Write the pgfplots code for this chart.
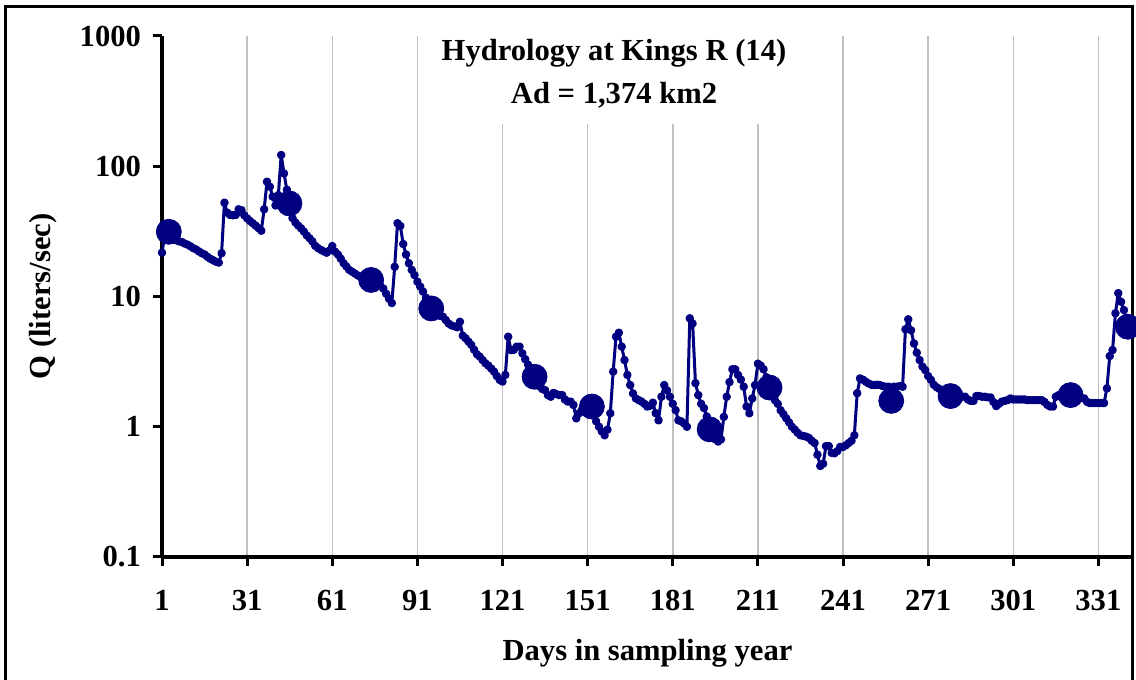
\documentclass[border=0pt]{standalone}
\usepackage{fontspec}
\setmainfont{Liberation Serif}
\usepackage{pgfplots}
\usepackage{pgfplotstable}
\pgfplotsset{compat=1.18}
\definecolor{navy}{HTML}{000080}
\definecolor{gridgray}{HTML}{C0C0C0}

\pgfplotstableread{
d q
1 21.7
2 30
3 31
4 29
5 27.5
6 27
7 26.5
8 26.2
9 25.5
10 25
11 24.3
12 23.5
13 23
14 22.2
15 21.5
16 21
17 20.2
18 19.5
19 19
20 18.5
21 18.2
22 21.5
23 52.5
24 44
25 42.3
26 42
27 42.3
28 46.7
29 46
30 42
31 39.8
32 38
33 36.5
34 35
35 33.5
36 32
37 46.7
38 76
39 69.7
40 58.4
41 50
42 60
43 122
44 88
45 66
46 50
47 40
48 37
49 35
50 33.4
51 31.5
52 29.5
53 28
54 26.5
55 24.5
56 23.5
57 22.8
58 22.2
59 21.7
60 22.5
61 24.4
62 22.1
63 21
64 19.5
65 18
66 17
67 16
68 15.5
69 15
70 14.5
71 14.2
72 14
73 13.7
74 13.4
75 13.1
76 12.8
77 12.4
78 12
79 11.5
80 10.5
81 9.6
82 8.9
83 16.9
84 36.5
85 34.8
86 25.3
87 21
88 18
89 16
90 14.6
91 13
92 11.9
93 10.9
94 9.8
95 9
96 8.2
97 7.6
98 7.3
99 7.1
100 7
101 6.6
102 6.2
103 6
104 5.9
105 5.8
106 6.4
107 5.0
108 4.78
109 4.5
110 4.25
111 3.9
112 3.6
113 3.45
114 3.25
115 3.07
116 2.95
117 2.8
118 2.65
119 2.45
120 2.29
121 2.22
122 2.5
123 4.91
124 3.88
125 3.9
126 4.12
127 4.12
128 3.66
129 3.3
130 3.0
131 2.7
132 2.42
133 2.2
134 2.05
135 1.95
136 1.91
137 1.75
138 1.70
139 1.82
140 1.78
141 1.75
142 1.75
143 1.62
144 1.56
145 1.56
146 1.47
147 1.16
148 1.27
149 1.35
150 1.42
151 1.45
152 1.43
153 1.3
154 1.1
155 1.0
156 0.92
157 0.86
158 0.95
159 1.27
160 2.65
161 4.91
162 5.27
163 4.12
164 3.25
165 2.5
166 2.09
167 1.8
168 1.65
169 1.6
170 1.56
171 1.5
172 1.43
173 1.45
174 1.53
175 1.27
176 1.12
177 1.7
178 2.09
179 1.9
180 1.7
181 1.5
182 1.34
183 1.12
184 1.1
185 1.06
186 1.0
187 6.8
188 6.2
189 2.16
190 1.75
191 1.5
192 1.39
193 1.2
194 1.0
195 0.9
196 0.8
197 0.77
198 0.8
199 1.19
200 1.7
201 2.2
202 2.76
203 2.76
204 2.5
205 2.3
206 2.03
207 1.43
208 1.27
209 1.65
210 2.09
211 3.05
212 2.95
213 2.76
214 2.4
215 2.1
216 1.8
217 1.6
218 1.5
219 1.34
220 1.25
221 1.16
222 1.08
223 1.0
224 0.95
225 0.9
226 0.86
227 0.85
228 0.84
229 0.82
230 0.78
231 0.75
232 0.61
233 0.5
234 0.52
235 0.71
236 0.71
237 0.63
238 0.625
239 0.65
240 0.7
241 0.7
242 0.72
243 0.75
244 0.78
245 0.86
246 1.81
247 2.35
248 2.3
249 2.22
250 2.15
251 2.1
252 2.09
253 2.1
254 2.09
255 2.05
256 2.03
257 2.03
258 2.0
259 2.03
260 2.03
261 2.05
262 2.03
263 5.6
264 6.68
265 5.5
266 4.36
267 3.7
268 3.25
269 2.9
270 2.72
271 2.45
272 2.29
273 2.1
274 2.01
275 1.95
276 1.9
277 1.85
278 1.8
279 1.75
280 1.72
281 1.72
282 1.7
283 1.7
284 1.7
285 1.62
286 1.58
287 1.58
288 1.72
289 1.72
290 1.7
291 1.7
292 1.68
293 1.68
294 1.55
295 1.44
296 1.5
297 1.56
298 1.58
299 1.6
300 1.65
301 1.62
302 1.62
303 1.62
304 1.62
305 1.62
306 1.6
307 1.6
308 1.6
309 1.6
310 1.6
311 1.6
312 1.55
313 1.47
314 1.43
315 1.43
316 1.7
317 1.75
318 1.75
319 1.75
320 1.75
321 1.75
322 1.72
323 1.7
324 1.68
325 1.66
326 1.65
327 1.55
328 1.52
329 1.52
330 1.52
331 1.52
332 1.52
333 1.52
334 1.97
335 3.49
336 3.88
337 7.43
338 10.6
339 9.1
340 7.87
341 6.5
342 6.0
}\daily

\pgfplotstableread{
d q
3.4 31.4
45.9 51.8
74.7 13.4
95.9 8.1
132.3 2.42
152.5 1.43
194.0 0.955
215.1 2.0
258.0 1.58
278.9 1.72
321.2 1.75
341.4 5.86
}\samples

\begin{document}
\begin{tikzpicture}[font=\fontsize{15.3}{18}\selectfont\bfseries]
\useasboundingbox (0,0) rectangle (568pt,340pt);
\begin{scope}
\clip (0,0) rectangle (568pt,340pt);
\draw[line width=1.4pt] (2.9pt,-10pt) -- (2.9pt,336.6pt) -- (566.3pt,336.6pt) -- (566.3pt,-10pt);
\end{scope}
\begin{axis}[
  name=ax,
  at={(81pt,61.5pt)}, anchor=south west,
  scale only axis, width=485.5pt, height=260.5pt,
  xmin=1, xmax=343.2, ymode=log, ymin=0.1, ymax=1000,
  axis x line*=bottom, axis y line*=left,
  axis line style={line width=2pt, -},
  xtick={1,31,...,331},
  xticklabels={1,31,61,91,121,151,181,211,241,271,301,331},
  ytick={0.1,1,10,100,1000},
  yticklabels={0.1,1,10,100,1000},
  yminorticks=false, xminorticks=false,
  tick align=outside, major tick length=4.5pt,
  tick style={line width=1.5pt, black},
  xmajorgrids, ymajorgrids=false,
  major grid style={line width=0.75pt, gridgray},
  ticklabel style={font=\fontsize{15.3}{18}\selectfont\bfseries},
  xticklabel style={yshift=-8.5pt},
  yticklabel style={xshift=-2.5pt},
]
\addplot[navy, line width=1.5pt, line join=round, mark=*, mark size=1.35pt, mark options={solid}] table[x=d, y=q] {\daily};
\addplot[only marks, navy, mark=*, mark size=6.25pt] table[x=d, y=q] {\samples};
\node[fill=white, inner sep=0pt, minimum width=180pt, minimum height=44pt, anchor=north] at (axis description cs:0.4655,1) {};
\node[inner sep=0pt, anchor=center, align=center, font=\fontsize{15.3}{21.5}\selectfont\bfseries] at (axis description cs:0.4655,0.928) {Hydrology at Kings R (14)\\Ad = 1,374 km2};
\end{axis}
\path (ax.south) ++(0,-48pt) node {Days in sampling year};
\path (ax.west) ++(-59.5pt,0) node[rotate=90] {Q (liters/sec)};
\end{tikzpicture}
\end{document}
